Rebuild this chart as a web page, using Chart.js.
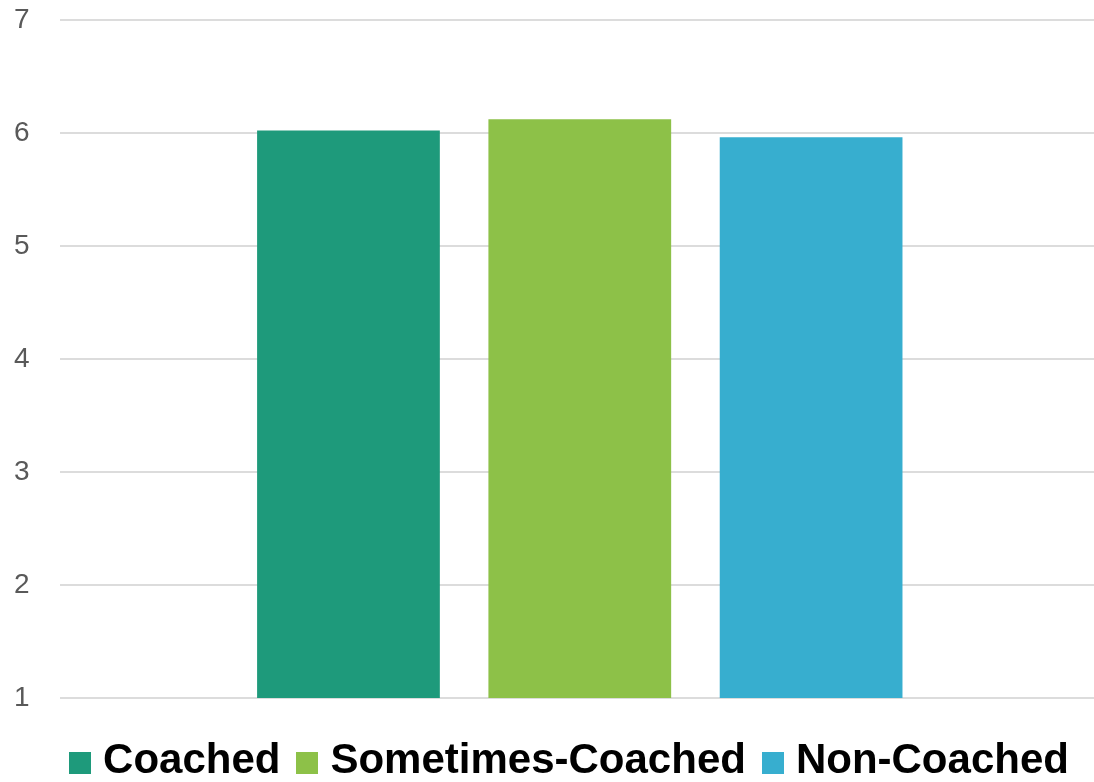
<!DOCTYPE html>
<html>
<head>
<meta charset="utf-8">
<script src="https://cdn.jsdelivr.net/npm/chart.js@4/dist/chart.umd.min.js"></script>
<style>
  html, body { margin: 0; padding: 0; background: #fff; }
  #wrap { position: relative; width: 1094px; height: 782px; overflow: hidden; }
  #area { width: 1100px; height: 782px; }
  #legenda {
    position: absolute; left: 0; top: 738px; width: 1094px;
    display: flex; justify-content: center; align-items: flex-start;
    padding-left: 44px; box-sizing: border-box;
    font-family: 'Liberation Sans', Arial, sans-serif; font-weight: bold;
    font-size: 42px; line-height: 42px; color: #000; white-space: nowrap;
  }
  .item { display: flex; align-items: flex-start; margin: 0 8px; }
  .caixa { width: 22px; height: 22px; margin-top: 14px; margin-right: 12px; }
</style>
</head>
<body>
<div id="wrap">
  <div id="area"><canvas id="grafico"></canvas></div>
  <div id="legenda"></div>
</div>
<script>
// groups and mean scores
const grupos = ["Coached", "Sometimes-Coached", "Non-Coached"];
const medias = [6.02, 6.12, 5.96];
const cores = ["#1e9a7b", "#8dc148", "#37aecf"];
const yTicks = [1, 2, 3, 4, 5, 6, 7];

const ctx = document.getElementById("grafico").getContext("2d");
const grafico = new Chart(ctx, {
  type: "bar",
  data: {
    labels: [""],
    datasets: grupos.map((g, i) => ({
      label: g,
      data: [medias[i]],
      backgroundColor: cores[i],
      borderWidth: 0,
      categoryPercentage: 0.667,
      barPercentage: 0.79,
    })),
  },
  options: {
    responsive: true,
    maintainAspectRatio: false,
    animation: false,
    layout: { padding: { left: 11, top: 0, right: 0, bottom: 84 } },
    plugins: {
      tooltip: { enabled: false },
      legend: { display: false },
    },
    scales: {
      x: { display: false },
      y: {
        min: yTicks[0],
        max: yTicks[yTicks.length - 1],
        border: { display: false },
        grid: { color: "#dcdcdc", lineWidth: 2, tickLength: 27, tickColor: "rgba(0,0,0,0)" },
        afterBuildTicks: (axis) => { axis.ticks = yTicks.map((v) => ({ value: v })); },
        ticks: {
          padding: 3,
          color: "#595959",
          font: { family: "'Liberation Sans', Arial, sans-serif", size: 28 },
        },
      },
    },
  },
});

// legend built from the chart's datasets
const legenda = document.getElementById("legenda");
grafico.data.datasets.forEach((ds) => {
  const item = document.createElement("div");
  item.className = "item";
  item.innerHTML = `<span class="caixa" style="background:${ds.backgroundColor}"></span><span>${ds.label}</span>`;
  legenda.appendChild(item);
});
</script>
</body>
</html>
